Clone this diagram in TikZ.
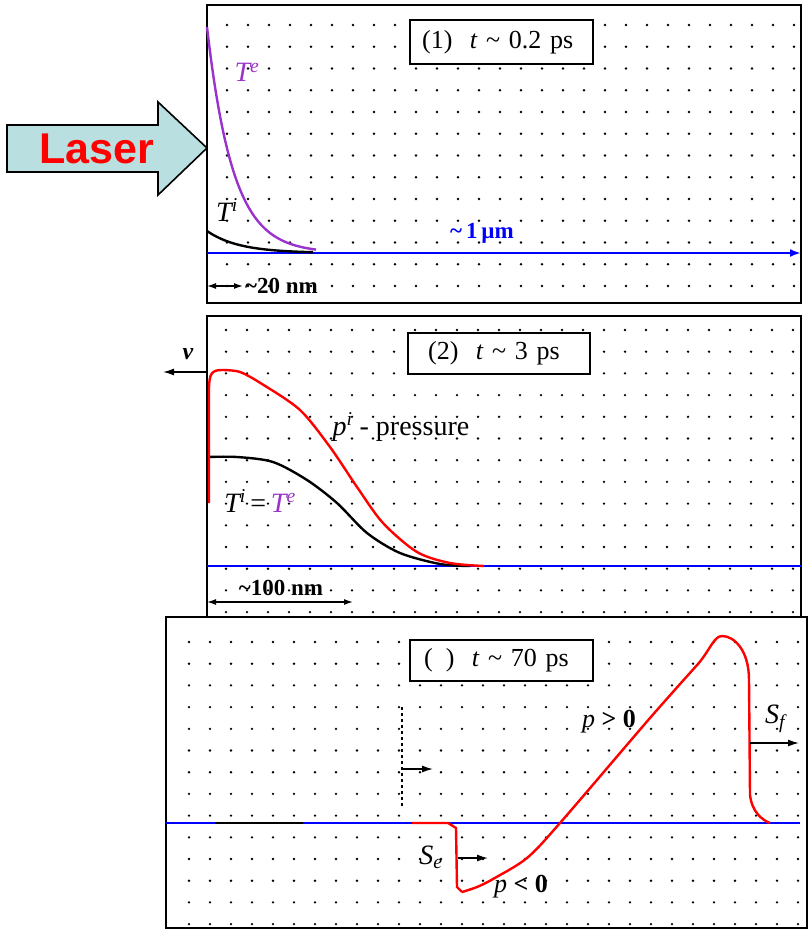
\documentclass[tikz,border=0pt]{standalone}
\usepackage{fontspec}
\setmainfont{Liberation Serif}
\newfontfamily\lasersans{Liberation Sans}
\usetikzlibrary{arrows.meta}
\definecolor{tepurple}{RGB}{153,51,204}
\definecolor{laserfill}{RGB}{185,223,224}

\begin{document}
\begin{tikzpicture}[x=1pt, y=-1pt,
    panel/.style={draw, line width=2.4pt},
    tbox/.style={draw, line width=2.2pt, fill=white, anchor=north west, text width=159pt, inner xsep=12pt, inner ysep=0pt, align=left, font=\fontsize{26}{28}\selectfont},
    lab/.style={inner sep=0pt, font=\fontsize{28}{30}\selectfont},
    dimlab/.style={inner sep=0pt, font=\bfseries\fontsize{23}{25}\selectfont},
    curve/.style={line width=2.4pt},
    tip/.style={-{Latex[length=11pt,width=7pt]}, line width=1.4pt},
    dtip/.style={{Latex[length=9pt,width=6pt]}-{Latex[length=9pt,width=6pt]}, line width=1.4pt}]
    \useasboundingbox (0,0) rectangle (809,931);

    % panel 1: t ~ 0.2 ps
    \draw[panel] (207,5) rectangle (801,303);
    \foreach \k in {0,...,27}
        \foreach \j in {0,...,12}
            \fill ({227+21*\k},{25+21.75*\j}) circle (1.3pt);
    \node[tbox, minimum height=44pt] (box1) at (409,19) {(1)\ \ \textit{t} \textasciitilde\ 0.2 ps};
    \coordinate (b1w) at (207,253);
    \coordinate (b1e) at (801,253);
    \draw[blue, line width=2.4pt, -{Latex[length=11pt,width=8pt]}] (b1w) -- (b1e);
    \node[dimlab, text=blue] (um) at (482,233) {\textasciitilde\,1\,µm};
    \draw[tepurple, curve] plot[domain=207:316, samples=80] (\x,{253-226*exp(-(\x-207)/26)});
    \draw[curve] plot[domain=207:313, samples=60] (\x,{253-22*exp(-(\x-207)/32)});
    \node[lab, text=tepurple] (te) at (247,72) {\textit{T\textsuperscript{e}}};
    \node[lab] (ti) at (227,210) {\textit{T\textsuperscript{i}}};
    \coordinate (nm20w) at (207,286);
    \coordinate (nm20e) at (243,286);
    \draw[dtip] (nm20w) -- (nm20e);
    \node[dimlab, anchor=west] (nm20) at (245,286) {\textasciitilde20 nm};

    % laser
    \draw[line width=1.6pt, fill=laserfill] (7,125) -- (158,125) -- (158,102) -- (207,148) -- (158,195) -- (158,172) -- (7,172) -- cycle;
    \node[text=red, font=\lasersans\bfseries\fontsize{43}{45}\selectfont] (laser) at (97,149) {Laser};

    % panel 2: t ~ 3 ps
    \draw[panel] (207,316) rectangle (801,617);
    \foreach \k in {0,...,27}
        \foreach \j in {0,...,13}
            \fill ({226+21*\k},{330+21.7*\j}) circle (1.3pt);
    \node[tbox, minimum height=41pt, inner xsep=20pt, text width=142pt] (box2) at (407,332) {(2)\ \ \textit{t} \textasciitilde\ 3 ps};
    \coordinate (b2w) at (207,566);
    \coordinate (b2e) at (801,566);
    \draw[blue, line width=2.4pt] (b2w) -- (b2e);
    \draw[curve] plot[smooth] coordinates {(207,457) (237,457) (273,462) (307,480) (337,503) (367,533) (400,553) (440,564) (470,566)};
    \draw[red, curve] (209,503) -- (209,390) .. controls (209,373) and (212,370) .. (222,370)
        plot[smooth] coordinates {(222,370) (240,372) (262,384) (300,410) (330,447) (357,487) (383,523) (417,552) (450,563) (484,566)};
    \node[lab] (press) at (401,427) {\textit{p\textsuperscript{i}} - pressure};
    \node[lab] (teq) at (260,501) {\textit{T\textsuperscript{i}}\,=\,\textcolor{tepurple}{\textit{T\textsuperscript{e}}}};
    \coordinate (vs) at (207,372);
    \coordinate (ve) at (163,372);
    \draw[tip] (vs) -- (ve);
    \node[lab, font=\bfseries\itshape\fontsize{24}{26}\selectfont] (v) at (188,354) {v};
    \coordinate (nm100w) at (207,602);
    \coordinate (nm100e) at (353,602);
    \draw[dtip] (nm100w) -- (nm100e);
    \node[dimlab] (nm100) at (281,588) {\textasciitilde100 nm};

    % panel 3: t ~ 70 ps
    \draw[panel] (166,617) rectangle (807,928);
    \foreach \k in {0,...,29}
        \foreach \j in {0,...,13}
            \fill ({189+21*\k},{642+21.7*\j}) circle (1.3pt);
    \node[tbox, minimum height=41pt, inner xsep=14pt, text width=155pt] (box3) at (409,639) {(\hphantom{3})\ \ \textit{t} \textasciitilde\ 70 ps};
    \coordinate (b3w) at (166,823);
    \coordinate (b3e) at (800,823);
    \draw[blue, line width=2.4pt] (b3w) -- (b3e);
    \coordinate (bk1) at (215,823);
    \coordinate (bk2) at (303,823);
    \draw[line width=2.4pt] (bk1) -- (bk2);
    \coordinate (rd1) at (412,823);
    \coordinate (rd2) at (448,823);
    \draw[red, curve] (rd1) -- (rd2) -- (456,828) -- (457,887) -- (462,892)
        plot[smooth] coordinates {(462,892) (477,887) (493,879) (527,858) (560,823) (650,718) (698,664)}
        .. controls (710,650) and (714,636) .. (722,636)
        .. controls (734,636) and (749,650) .. (749,680)
        -- (750,795) .. controls (752,812) and (762,820) .. (770,823);
    \coordinate (dsh1) at (402,707);
    \coordinate (dsh2) at (402,808);
    \draw[dashed, line width=1.3pt] (dsh1) -- (dsh2);
    \coordinate (fr1) at (402,769);
    \coordinate (fr2) at (433,769);
    \draw[tip] (fr1) -- (fr2);
    \node[lab] (se) at (431,857) {\textit{S\textsubscript{e}}};
    \coordinate (se1) at (458,858);
    \coordinate (se2) at (488,858);
    \draw[tip] (se1) -- (se2);
    \node[lab] (sf) at (775,719) {\textit{S\textsubscript{f}}};
    \coordinate (sf1) at (750,743);
    \coordinate (sf2) at (799,743);
    \draw[tip] (sf1) -- (sf2);
    \node[lab, font=\fontsize{26}{28}\selectfont] (ppos) at (609,722) {\textit{p} \textbf{> 0}};
    \node[lab, font=\fontsize{26}{28}\selectfont] (pneg) at (521,887) {\textit{p} \textbf{< 0}};
\end{tikzpicture}
\end{document}
